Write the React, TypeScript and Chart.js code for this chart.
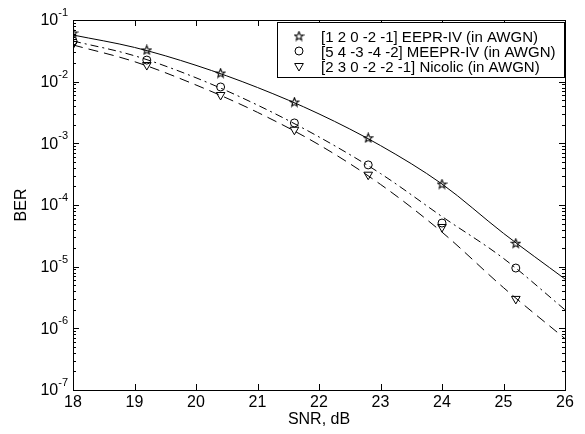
import React, { useEffect, useRef } from "react";
import { Chart, registerables } from "chart.js";

Chart.register(...registerables);

// ---- data ----
const lineSNR = [18, 19, 20, 21, 22, 23, 24, 25, 26];
const eeprTheory = [0.0571, 0.0359, 0.0184, 0.00804, 0.0030, 0.00092, 0.000219, 0.0000347, 0.0000063];
const meeprTheory = [0.0457, 0.0263, 0.01156, 0.00417, 0.00127, 0.000324, 0.000065, 0.0000136, 0.000002];
const nicolicTheory = [0.0394, 0.0211, 0.00883, 0.00318, 0.000948, 0.000216, 0.0000363, 0.00000457, 0.00000068];

const simSNR = [18, 19.2, 20.4, 21.6, 22.8, 24, 25.2];
const eeprSim = [0.0616, 0.0327, 0.0138, 0.00468, 0.00123, 0.000219, 0.000024];
const meeprSim = [0.0457, 0.0224, 0.0082, 0.00214, 0.000447, 0.000051, 0.0000095];
const nicolicSim = [0.0407, 0.0186, 0.00608, 0.00166, 0.00031, 0.000044, 0.000003];

const legendLabels = [
  "[1 2 0 -2 -1] EEPR-IV (in AWGN)",
  "[5 4 -3 -4 -2] MEEPR-IV (in AWGN)",
  "[2 3 0 -2 -2 -1] Nicolic (in AWGN)",
];
const yDecades = [-1, -2, -3, -4, -5, -6, -7];
const xMin = 18;
const xMax = 26;

const FONT = "'Liberation Sans', Arial, Helvetica, sans-serif";

function makeStar(): HTMLCanvasElement {
  const c = document.createElement("canvas");
  c.width = 11;
  c.height = 11;
  const ctx = c.getContext("2d")!;
  ctx.strokeStyle = "#000";
  ctx.lineWidth = 1.1;
  ctx.lineJoin = "miter";
  ctx.beginPath();
  for (let i = 0; i < 10; i++) {
    const r = i % 2 === 0 ? 4.6 : 2.0;
    const a = -Math.PI / 2 + (i * Math.PI) / 5;
    const x = 5.5 + r * Math.cos(a);
    const y = 5.8 + r * Math.sin(a);
    if (i === 0) ctx.moveTo(x, y);
    else ctx.lineTo(x, y);
  }
  ctx.closePath();
  ctx.stroke();
  return c;
}

const pts = (xs: number[], ys: number[]) => xs.map((x, i) => ({ x, y: ys[i] }));

export default function App() {
  const ref = useRef<HTMLCanvasElement>(null);

  useEffect(() => {
    const star = makeStar();

    const framePlugin = {
      id: "frame",
      afterDraw(chart: any) {
        const ctx = chart.ctx as CanvasRenderingContext2D;
        const { left, right, top, bottom } = chart.chartArea;
        const xs = chart.scales.x;
        const ys = chart.scales.y;
        ctx.save();
        ctx.strokeStyle = "#000";
        ctx.lineWidth = 1;
        ctx.strokeRect(Math.round(left) + 0.5, Math.round(top) + 0.5, Math.round(right - left), Math.round(bottom - top));
        ctx.beginPath();
        for (let v = xMin; v <= xMax; v++) {
          const px = Math.round(xs.getPixelForValue(v)) + 0.5;
          ctx.moveTo(px, bottom);
          ctx.lineTo(px, bottom - 6);
          ctx.moveTo(px, top);
          ctx.lineTo(px, top + 6);
        }
        for (const d of yDecades) {
          const py = Math.round(ys.getPixelForValue(Math.pow(10, d))) + 0.5;
          ctx.moveTo(left, py);
          ctx.lineTo(left + 6, py);
          ctx.moveTo(right, py);
          ctx.lineTo(right - 6, py);
        }
        for (let d = -7; d < -1; d++) {
          for (let m = 2; m <= 9; m++) {
            const py = Math.round(ys.getPixelForValue(m * Math.pow(10, d))) + 0.5;
            ctx.moveTo(left, py);
            ctx.lineTo(left + 3, py);
            ctx.moveTo(right, py);
            ctx.lineTo(right - 3, py);
          }
        }
        ctx.stroke();

        // y tick labels 10^d
        ctx.fillStyle = "#000";
        ctx.textBaseline = "middle";
        for (const d of yDecades) {
          const py = ys.getPixelForValue(Math.pow(10, d));
          const sup = String(d);
          ctx.font = `11px ${FONT}`;
          const sw = ctx.measureText(sup).width;
          const endX = left - 5;
          ctx.textAlign = "left";
          ctx.fillText(sup, endX - sw, py - 7);
          ctx.font = `16px ${FONT}`;
          ctx.textAlign = "right";
          ctx.fillText("10", endX - sw, py + 1);
        }

        // legend
        const bx = 277.5, by = 22.5, bw = 287, bh = 55;
        ctx.fillStyle = "#fff";
        ctx.fillRect(bx, by, bw, bh);
        ctx.strokeRect(bx, by, bw, bh);
        ctx.fillStyle = "#000";
        ctx.font = `15px ${FONT}`;
        ctx.textAlign = "left";
        ctx.textBaseline = "middle";
        const rows = [38, 53, 68];
        const mx = 299;
        rows.forEach((ry, i) => ctx.fillText(legendLabels[i], 321, ry));
        // markers
        ctx.drawImage(star, mx - 5.5, rows[0] - 2 - 5.5);
        ctx.beginPath();
        ctx.arc(mx, rows[1] - 2, 4, 0, Math.PI * 2);
        ctx.stroke();
        const ty = rows[2] - 2;
        const r = 5;
        ctx.beginPath();
        ctx.moveTo(mx, ty + r);
        ctx.lineTo(mx - r * Math.sin(Math.PI / 3), ty - r / 2);
        ctx.lineTo(mx + r * Math.sin(Math.PI / 3), ty - r / 2);
        ctx.closePath();
        ctx.stroke();
        ctx.restore();
      },
    };

    const lineBase = {
      borderColor: "#000",
      borderWidth: 1,
      pointRadius: 0,
      fill: false,
      showLine: true,
      cubicInterpolationMode: "monotone" as const,
    };
    const markBase = {
      borderColor: "#000",
      backgroundColor: "rgba(0,0,0,0)",
      borderWidth: 1,
      showLine: false,
    };

    const chart = new Chart(ref.current!, {
      type: "line",
      data: {
        datasets: [
          { ...lineBase, label: "eepr-theory", data: pts(lineSNR, eeprTheory) },
          { ...lineBase, label: "meepr-theory", data: pts(lineSNR, meeprTheory), borderDash: [8, 4, 2, 4] },
          { ...lineBase, label: "nicolic-theory", data: pts(lineSNR, nicolicTheory), borderDash: [10, 6] },
          { ...markBase, label: legendLabels[0], data: pts(simSNR, eeprSim), pointStyle: star, pointRadius: 5 },
          { ...markBase, label: legendLabels[1], data: pts(simSNR, meeprSim), pointStyle: "circle", pointRadius: 4 },
          { ...markBase, label: legendLabels[2], data: pts(simSNR, nicolicSim), pointStyle: "triangle", pointRadius: 5, pointRotation: 180 },
        ] as any,
      },
      options: {
        animation: false,
        responsive: true,
        maintainAspectRatio: false,
        layout: { padding: { top: 20, right: 20, left: 0, bottom: 0 } },
        plugins: { legend: { display: false }, tooltip: { enabled: false } },
        scales: {
          x: {
            type: "linear",
            min: xMin,
            max: xMax,
            grid: { display: false, drawTicks: false },
            border: { display: false },
            ticks: { stepSize: 1, color: "#000", font: { family: FONT, size: 16 }, padding: 3, maxRotation: 0 },
            title: { display: true, text: "SNR, dB", color: "#000", font: { family: FONT, size: 16 }, padding: { top: 0, bottom: 5 } },
            afterFit: (s: any) => { s.height = 44; },
          },
          y: {
            type: "logarithmic",
            min: 1e-7,
            max: 1e-1,
            grid: { display: false, drawTicks: false },
            border: { display: false },
            ticks: { display: false },
            title: { display: true, text: "BER", color: "#000", font: { family: FONT, size: 16 }, padding: { top: 12, bottom: 0 } },
            afterFit: (s: any) => { s.width = 73; },
          },
        },
      } as any,
      plugins: [framePlugin],
    });
    return () => chart.destroy();
  }, []);

  return (
    <div style={{ position: "fixed", left: 0, top: 0, width: 585, height: 434, background: "#fff" }}>
      <canvas ref={ref} />
    </div>
  );
}
